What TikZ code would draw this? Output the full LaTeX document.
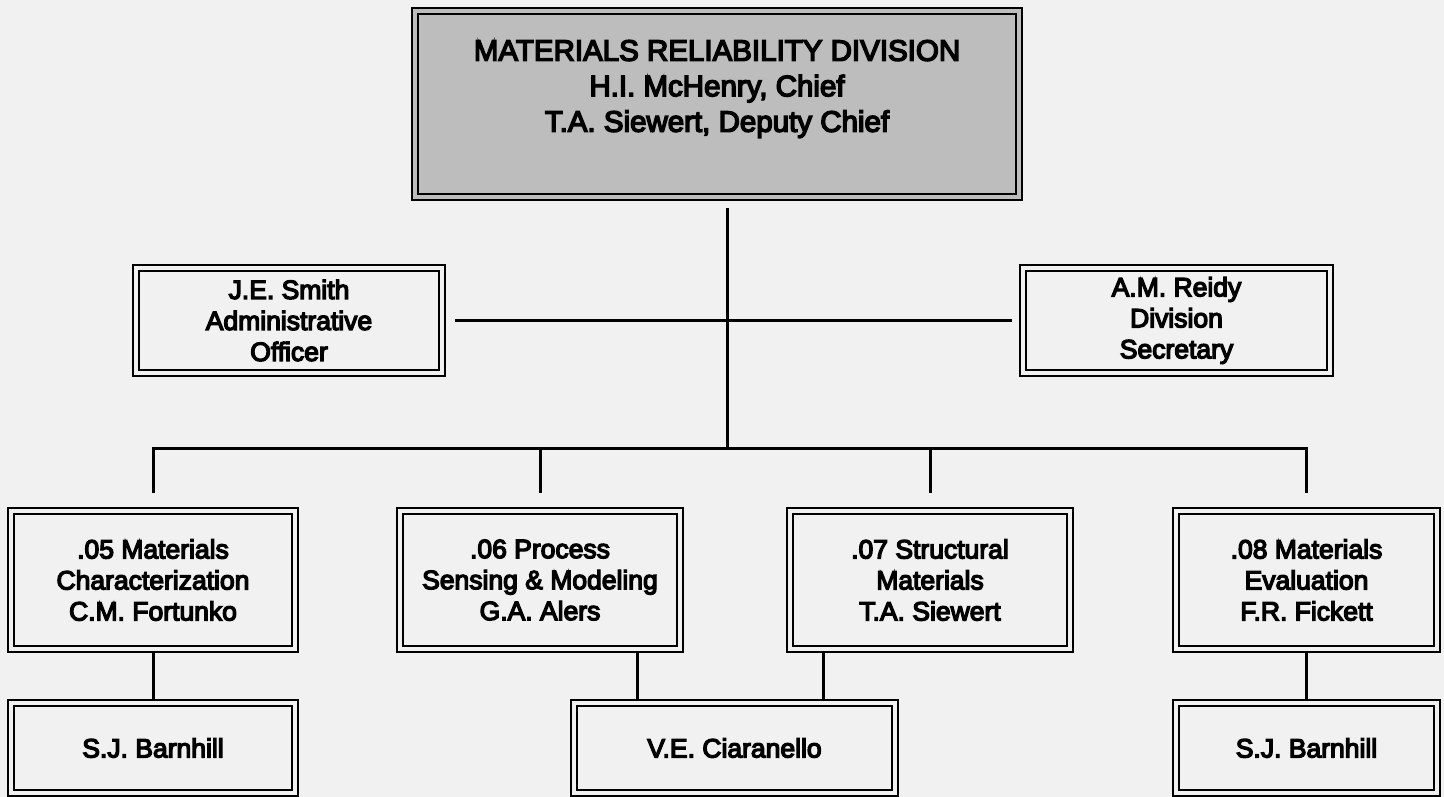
\documentclass[tikz,border=0pt]{standalone}
\usepackage{fontspec}
\newfontfamily\orgfont{Liberation Sans}[FakeBold=5]
\definecolor{bgcol}{HTML}{F1F1F1}
\definecolor{topfill}{HTML}{BDBDBD}
\begin{document}
\begin{tikzpicture}[x=1pt,y=-1pt,
  orgbox/.style={draw=black, line width=2.8pt, inner sep=0pt, align=center,
    font=\orgfont\fontsize{26.5}{31}\selectfont,
    path picture={\draw[line width=1.4pt]
      ([shift={(6pt,-6pt)}]path picture bounding box.north west) rectangle
      ([shift={(-6pt,6pt)}]path picture bounding box.south east);}},
  conn/.style={draw=black, line width=3pt},
  titletext/.style={inner sep=0pt, align=center, font=\orgfont\fontsize{29.5}{35.5}\selectfont}]
\useasboundingbox[fill=bgcol] (0,0) rectangle (1444,797);
% top
\node[orgbox, fill=topfill, minimum width=610pt, minimum height=192pt] (top) at (717,104) {};
\node[titletext] (toptitle) at (717,89) {MATERIALS RELIABILITY DIVISION\\H.I. McHenry, Chief\\T.A. Siewert, Deputy Chief};
% staff
\node[orgbox, minimum width=312pt, minimum height=111pt] (admin) at (289,320.5) {J.E. Smith\\Administrative\\Officer};
\node[orgbox, minimum width=313pt, minimum height=111pt] (secr) at (1176.5,320.5) {A.M. Reidy\\Division\\Secretary};
% groups
\node[orgbox, minimum width=290pt, minimum height=144pt] (g5) at (153,580) {.05 Materials\\Characterization\\C.M. Fortunko};
\node[orgbox, minimum width=286pt, minimum height=144pt] (g6) at (540,580) {.06 Process\\Sensing \& Modeling\\G.A. Alers};
\node[orgbox, minimum width=286pt, minimum height=144pt] (g7) at (930,580) {.07 Structural\\Materials\\T.A. Siewert};
\node[orgbox, minimum width=267pt, minimum height=144pt] (g8) at (1306.5,580) {.08 Materials\\Evaluation\\F.R. Fickett};
% secretaries
\node[orgbox, minimum width=290pt, minimum height=96pt] (s5) at (153,748) {S.J. Barnhill};
\node[orgbox, minimum width=327pt, minimum height=96pt] (s67) at (734.5,748) {V.E. Ciaranello};
\node[orgbox, minimum width=267pt, minimum height=96pt] (s8) at (1306.5,748) {S.J. Barnhill};
% connectors
\coordinate (bus) at (727,448);
\draw[conn, shorten <=7pt] (top.south -| bus) -- (bus);
\draw[conn, shorten <=9pt, shorten >=7pt] (admin.east) -- (secr.west);
\draw[conn, line cap=rect] (g5.north |- bus) -- (g8.north |- bus);
\foreach \g in {g5,g6,g7,g8}{
  \draw[conn, shorten >=14pt] (\g.north |- bus) -- (\g.north);
}
\draw[conn] (g5.south) -- (s5.north);
\draw[conn] ([xshift=97pt]g6.south) -- ([xshift=97pt]g6.south |- s67.north);
\draw[conn] ([xshift=-107pt]g7.south) -- ([xshift=-107pt]g7.south |- s67.north);
\draw[conn] (g8.south) -- (s8.north);
\end{tikzpicture}
\end{document}
